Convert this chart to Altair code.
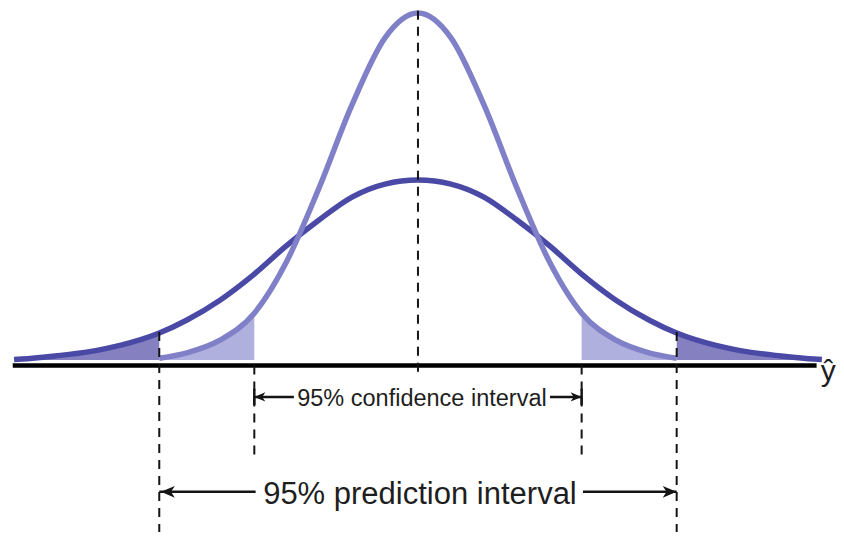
import altair as alt
import pandas as pd

# ---- values (x in standard-error units from y-hat, y in density units)
x_half = [0.0, 0.25, 0.5, 0.75, 1.0, 1.24, 1.5, 1.75, 1.96, 2.25, 2.5, 2.75, 3.0, 3.06]
wide_half = [0.400, 0.391, 0.362, 0.311, 0.253, 0.191, 0.133, 0.089, 0.060, 0.033, 0.018, 0.009, 0.002, 0.001]
narrow_half = [0.771, 0.716, 0.567, 0.382, 0.216, 0.104, 0.044, 0.016, 0.004]

ci_bound = 1.24
pi_bound = 1.96
x_extent = 3.06
axis_extent = [-3.07, 3.02]

ci_label = "95% confidence interval"
pi_label = "95% prediction interval"
yhat_label = "ŷ"

# label / annotation levels (density units, below the curves)
axis_level = -0.012
center_top = 0.776
center_bottom = -0.038
ci_line_bottom = -0.216
pi_line_top = 0.062
y_min, y_max = -0.3822, 0.7822
x_min, x_max = -3.106, 3.167
ci_arrow_y = -0.082
pi_arrow_y = -0.293
ci_text_y = -0.103
pi_text_y = -0.320
ci_text_gap = [-0.94, 1.00]
pi_text_gap = [-1.23, 1.25]
yhat_pos = (3.165, -0.047)

WIDE = "#4a4aa6"
NARROW = "#8080c8"
WIDE_FILL = "#8580c0"
NARROW_FILL = "#b0b0de"
INK = "#141414"


def mirror(xs, ys):
    left = [(-x, y) for x, y in zip(xs[::-1], ys[::-1]) if x > 0]
    return left + list(zip(xs, ys))


wide_df = pd.DataFrame(mirror(x_half, wide_half), columns=["x", "y"])
narrow_df = pd.DataFrame(mirror(x_half[: len(narrow_half)], narrow_half), columns=["x", "y"])
wide_df["zero"] = 0.0
narrow_df["zero"] = 0.0
wide_df["side"] = (wide_df["x"] > 0).map({True: "r", False: "l"})
narrow_df["side"] = (narrow_df["x"] > 0).map({True: "r", False: "l"})

wide_tails = wide_df[wide_df["x"].abs() >= pi_bound - 1e-9]
narrow_tails = narrow_df[(narrow_df["x"].abs() >= ci_bound - 1e-9) & (narrow_df["x"].abs() <= pi_bound + 1e-9)]

xs = alt.Scale(domain=[x_min, x_max], nice=False, zero=False)
ys = alt.Scale(domain=[y_min, y_max], nice=False, zero=False)
X = lambda f: alt.X(f, type="quantitative", scale=xs, axis=None)
Y = lambda f: alt.Y(f, type="quantitative", scale=ys, axis=None)

base_line = alt.Chart(pd.DataFrame({"x": [axis_extent[0]], "x2": [axis_extent[1]], "y": [axis_level]})).mark_rule(
    color="black", strokeWidth=4.5
).encode(x=X("x"), x2="x2", y=Y("y"))

wide_fill = alt.Chart(wide_tails).mark_area(color=WIDE_FILL, interpolate="monotone", opacity=1).encode(
    x=X("x"), y=Y("y"), y2="zero", detail="side:N"
)
narrow_fill = alt.Chart(narrow_tails).mark_area(color=NARROW_FILL, interpolate="monotone", opacity=1).encode(
    x=X("x"), y=Y("y"), y2="zero", detail="side:N"
)
wide_line = alt.Chart(wide_df).mark_line(color=WIDE, strokeWidth=5.5, interpolate="monotone").encode(
    x=X("x"), y=Y("y")
)
narrow_line = alt.Chart(narrow_df).mark_line(color=NARROW, strokeWidth=5.5, interpolate="monotone").encode(
    x=X("x"), y=Y("y")
)

vlines_df = pd.DataFrame(
    {
        "x": [0.0, -ci_bound, ci_bound, -pi_bound, pi_bound],
        "y": [center_top, axis_level, axis_level, pi_line_top, pi_line_top],
        "y2": [center_bottom, ci_line_bottom, ci_line_bottom, y_min, y_min],
    }
)
vlines = alt.Chart(vlines_df).mark_rule(color=INK, strokeWidth=2, strokeDash=[9, 7]).encode(
    x=X("x"), y=Y("y"), y2="y2"
)

shafts_df = pd.DataFrame(
    {
        "x": [-ci_bound, ci_text_gap[1], -pi_bound, pi_text_gap[1]],
        "x2": [ci_text_gap[0], ci_bound, pi_text_gap[0], pi_bound],
        "y": [ci_arrow_y, ci_arrow_y, pi_arrow_y, pi_arrow_y],
    }
)
shafts = alt.Chart(shafts_df).mark_rule(color=INK, strokeWidth=2.5).encode(x=X("x"), x2="x2", y=Y("y"))

bars_df = pd.DataFrame({"x": [-ci_bound, ci_bound], "y": [ci_arrow_y + 0.018] * 2, "y2": [ci_arrow_y - 0.018] * 2})
bars = alt.Chart(bars_df).mark_rule(color=INK, strokeWidth=2.5).encode(x=X("x"), y=Y("y"), y2="y2")

LEFT_HEAD = "M0,0L2,-0.85L1.45,0L2,0.85Z"
RIGHT_HEAD = "M0,0L-2,-0.85L-1.45,0L-2,0.85Z"


def head(xv, yv, shape, size):
    return alt.Chart(pd.DataFrame({"x": [xv], "y": [yv]})).mark_point(
        shape=shape, filled=True, size=size, color=INK, opacity=1, strokeWidth=0
    ).encode(x=X("x"), y=Y("y"))


heads = [
    head(-ci_bound, ci_arrow_y, LEFT_HEAD, 121),
    head(ci_bound, ci_arrow_y, RIGHT_HEAD, 121),
    head(-pi_bound + 0.012, pi_arrow_y, LEFT_HEAD, 196),
    head(pi_bound, pi_arrow_y, RIGHT_HEAD, 196),
]

texts_df = pd.DataFrame(
    {
        "x": [0.03, 0.015],
        "y": [ci_text_y, pi_text_y],
        "t": [ci_label, pi_label],
    }
)
ci_text = alt.Chart(texts_df.iloc[[0]]).mark_text(
    font="Liberation Sans", fontSize=23.5, color="#1e1e1e", align="center", baseline="alphabetic"
).encode(x=X("x"), y=Y("y"), text="t:N")
pi_text = alt.Chart(texts_df.iloc[[1]]).mark_text(
    font="Liberation Sans", fontSize=31, color="#1e1e1e", align="center", baseline="alphabetic"
).encode(x=X("x"), y=Y("y"), text="t:N")

yhat = alt.Chart(pd.DataFrame({"x": [yhat_pos[0]], "y": [yhat_pos[1]], "t": [yhat_label]})).mark_text(
    font="Liberation Sans", fontSize=30, color="#1e1e1e", align="right", baseline="alphabetic"
).encode(x=X("x"), y=Y("y"), text="t:N")

chart = alt.layer(
    base_line, wide_fill, narrow_fill, wide_line, narrow_line, vlines, shafts, bars, *heads, ci_text, pi_text, yhat
).properties(width=828, height=524, padding=0, autosize=alt.AutoSizeParams(type="none"), background="white").configure_view(
    stroke=None
)

chart.save("out.html", embed_options={"renderer": "svg", "actions": False})
